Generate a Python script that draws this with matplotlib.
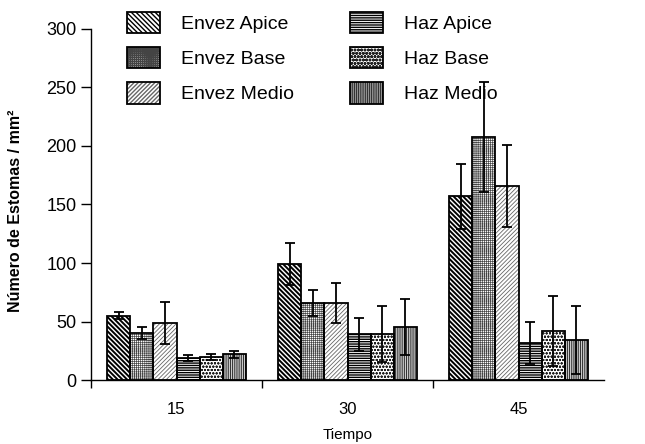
import numpy as np
import matplotlib
matplotlib.use('Agg')
import matplotlib.pyplot as plt

plt.rcParams['font.family'] = ['Liberation Sans', 'DejaVu Sans']

tiempos = ['15', '30', '45']
series = ['Envez Apice', 'Envez Base', 'Envez Medio', 'Haz Apice', 'Haz Base', 'Haz Medio']

envez_apice = [55, 99, 157]
envez_base = [40, 66, 208]
envez_medio = [49, 66, 166]
haz_apice = [19, 39, 32]
haz_base = [20, 39, 42]
haz_medio = [22, 45, 34]

err_envez_apice = [3, 18, 28]
err_envez_base = [5, 11, 47]
err_envez_medio = [18, 17, 35]
err_haz_apice = [2.5, 14, 18]
err_haz_base = [2.5, 24, 30]
err_haz_medio = [3, 24, 29]

values = [envez_apice, envez_base, envez_medio, haz_apice, haz_base, haz_medio]
errors = [err_envez_apice, err_envez_base, err_envez_medio, err_haz_apice, err_haz_base, err_haz_medio]
hatches = ['\\' * 7, '+' * 8, '/' * 8, '-' * 7, 'o' * 5, '|' * 9]
hatch_lw = [1.4, 0.5, 0.6, 1.0, 0.6, 0.8]
hatch_col = ['black', '#444444', '#666666', 'black', '#222222', '#333333']

fig = plt.figure(figsize=(6.45, 4.44), dpi=100)
ax = fig.add_axes([91/645, 64/444, 513/645, 351/444])

x = np.arange(len(tiempos)) + 0.5
width = 0.135
handles = []
for i, (vals, errs) in enumerate(zip(values, errors)):
    pos = x + (i - 2.5) * width
    with plt.rc_context({'hatch.linewidth': hatch_lw[i]}):
        b = ax.bar(pos, vals, width, color='white', edgecolor=hatch_col[i], hatch=hatches[i],
                   linewidth=0, zorder=2)
        for p in b:
            try:
                p.set_hatch_linewidth(hatch_lw[i])
            except AttributeError:
                pass
    o = ax.bar(pos, vals, width, fill=False, edgecolor='black', linewidth=1.3, zorder=2.5)
    ax.errorbar(pos, vals, yerr=errs, fmt='none', ecolor='black', elinewidth=1.3,
                capsize=3.5, capthick=1.3, zorder=3)
    handles.append((b, o))

ax.set_xlim(0, 3)
ax.set_ylim(0, 300)
ax.set_yticks(range(0, 301, 50))
ax.set_xticks(x)
ax.set_xticklabels(tiempos, fontsize=12)
ax.set_xticks([0, 1, 2], minor=True)
ax.tick_params(axis='x', which='major', length=0, pad=16)
ax.tick_params(axis='x', which='minor', length=6, direction='out', width=1)
ax.tick_params(axis='y', labelsize=13, length=7, direction='out', width=1)
for s in ['top', 'right']:
    ax.spines[s].set_visible(False)
ax.spines['left'].set_linewidth(1)
ax.spines['bottom'].set_linewidth(1)

ax.set_xlabel('Tiempo', fontsize=11, labelpad=8)
ax.set_ylabel('Número de Estomas / mm²', fontsize=11.5, fontweight='bold')
ax.yaxis.set_label_coords(-0.133, 0.483)

fig.legend(handles=handles, labels=series, ncol=2, frameon=False, fontsize=14,
           loc='upper left', bbox_to_anchor=(127/645, 1 - 12/444),
           borderpad=0, borderaxespad=0, handlelength=1.7, handleheight=1.3,
           handletextpad=1.1, labelspacing=0.72, columnspacing=2.85)

fig.savefig('out.png', dpi=100)
